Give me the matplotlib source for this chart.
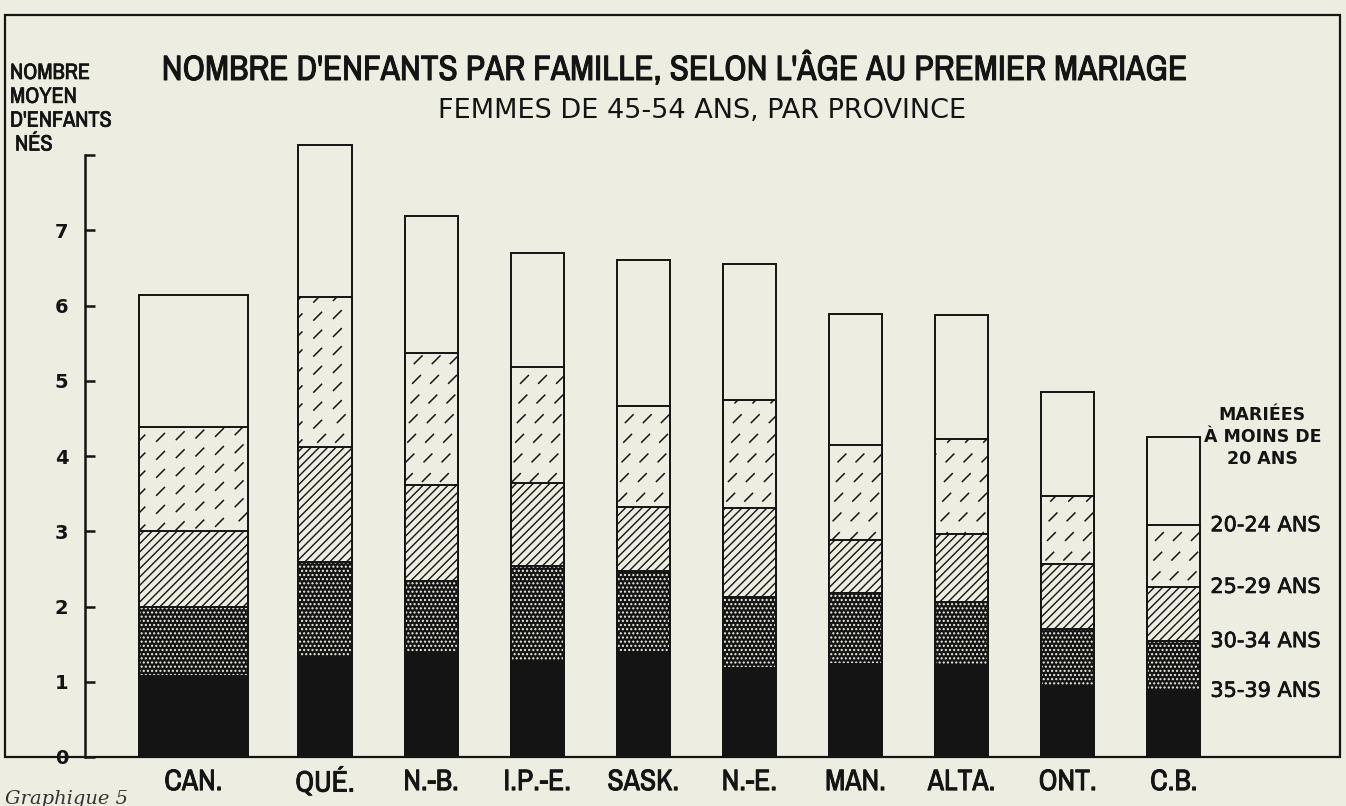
import numpy as np
import matplotlib
matplotlib.use('Agg')
import matplotlib.pyplot as plt
from matplotlib import font_manager
from matplotlib import patheffects as pe
from matplotlib.patches import Rectangle
from matplotlib.collections import LineCollection

# Data: mean number of children born, by age at first marriage
provinces = ['CAN.', 'QUÉ.', 'N.-B.', 'I.P.-E.', 'SASK.', 'N.-E.', 'MAN.', 'ALTA.', 'ONT.', 'C.B.']
under_20 = [6.14, 8.13, 7.19, 6.70, 6.60, 6.55, 5.89, 5.87, 4.85, 4.25]
age_20_24 = [4.38, 6.11, 5.37, 5.18, 4.67, 4.75, 4.15, 4.22, 3.47, 3.08]
age_25_29 = [3.00, 4.12, 3.62, 3.64, 3.32, 3.31, 2.88, 2.96, 2.56, 2.26]
age_30_34 = [1.99, 2.59, 2.34, 2.54, 2.47, 2.13, 2.18, 2.06, 1.70, 1.54]
age_35_39 = [1.08, 1.31, 1.37, 1.28, 1.39, 1.18, 1.23, 1.21, 0.94, 0.88]
group_labels = ['MARIÉES\nÀ MOINS DE\n20 ANS', '20-24 ANS', '25-29 ANS', '30-34 ANS', '35-39 ANS']

paper = '#edeee1'
ink = '#141414'

# look for a narrow / condensed face, otherwise plain DejaVu Sans
narrow, stretch = 'DejaVu Sans', 'normal'
for f in font_manager.fontManager.ttflist:
    if 'Narrow' in f.name or 'Condensed' in f.name:
        narrow, stretch = f.name, 'normal'
        break
else:
    for f in font_manager.fontManager.ttflist:
        if f.name == 'DejaVu Sans' and str(f.stretch) in ('condensed', 'semi-condensed', '500'):
            stretch = 'condensed'
            break

def heavy(w):
    return [pe.withStroke(linewidth=w, foreground=ink)]

plt.rcParams['lines.scale_dashes'] = False
plt.rcParams['hatch.linewidth'] = 1.0

W, H = 1346, 806
fig = plt.figure(figsize=(W / 100, H / 100), dpi=100, facecolor=paper)
ax = fig.add_axes([85 / W, 49 / H, 1255 / W, 602 / H])
ax.set_facecolor('none')
xmin, xmax = -1.262, 10.566
ax.set_xlim(xmin, xmax)
ax.set_ylim(0, 8)
px_x = 1255 / (xmax - xmin)
px_y = 602 / 8

# CAN. bar is twice as wide and set apart
pos = np.r_[-0.24, np.arange(1, len(provinces))]
widths = np.r_[1.02, np.full(len(provinces) - 1, 0.5)]

groups = [under_20, age_20_24, age_25_29, age_30_34, age_35_39]
faces = [paper, paper, paper, ink, ink]
hatches = [None, None, '////', '....', None]
hatch_cols = [ink, ink, ink, paper, ink]

for k, vals in enumerate(groups):
    z = 2 + 2 * k
    bars = ax.bar(pos, vals, width=widths, color=faces[k], edgecolor=hatch_cols[k],
                  hatch=hatches[k], linewidth=0, zorder=z, clip_on=False)
    ax.bar(pos, vals, width=widths, fill=False, edgecolor=ink, linewidth=1.4,
           zorder=z + 0.5, clip_on=False)
    if k == 1:
        # short diagonal dashes for the 20-24 group
        step = 18
        for patch, p, w, v in zip(bars.patches, pos, widths, vals):
            left = (p - w / 2) * px_x
            right = (p + w / 2) * px_x
            top = v * px_y
            starts = np.arange(np.floor((left - top) / step) * step, right, step)
            segs = [[(s / px_x, 0), ((s + top) / px_x, v)] for s in starts]
            lc = LineCollection(segs, colors=ink, linewidths=1.1,
                                linestyles=[(0, (9, 11))], zorder=z + 0.2)
            ax.add_collection(lc)
            lc.set_clip_path(patch)

# group labels beside the C.B. bar
right_edge = pos[-1] + widths[-1] / 2
for k, vals in enumerate(groups):
    if k == 0:
        ax.text(right_edge + 62 / px_x, vals[-1], group_labels[k], ha='center', va='center',
                multialignment='center', fontsize=12.5, fontweight='bold', color=ink,
                linespacing=1.3, zorder=20)
    else:
        ax.text(right_edge + 10 / px_x, vals[-1], group_labels[k], ha='left', va='center',
                fontsize=15, color=ink, zorder=20, path_effects=heavy(0.5))

for side in ['top', 'right', 'bottom']:
    ax.spines[side].set_visible(False)
ax.spines['left'].set_linewidth(1.8)
ax.spines['left'].set_color(ink)

ax.set_yticks(range(9))
ax.set_yticklabels([str(i) for i in range(8)] + [''])
ax.tick_params(axis='y', direction='in', length=7, width=1.8, color=ink, pad=12,
               labelsize=14, labelcolor=ink)
for lab in ax.get_yticklabels():
    lab.set_fontweight('bold')

ax.set_xticks(pos)
ax.set_xticklabels(provinces, family=narrow, fontstretch=stretch, fontsize=22, color=ink)
ax.tick_params(axis='x', length=0, pad=8)
for lab in ax.get_xticklabels():
    lab.set_path_effects(heavy(0.6))

# frame around the chart
fig.add_artist(Rectangle((5 / W, 49 / H), 1335 / W, 742 / H, transform=fig.transFigure,
                         fill=False, edgecolor=ink, linewidth=1.6))

title = fig.text(675 / W, 1 - 80 / H, "NOMBRE D'ENFANTS PAR FAMILLE, SELON L'ÂGE AU PREMIER MARIAGE",
                 ha='center', va='baseline', family=narrow, fontstretch=stretch,
                 fontsize=26, fontweight='bold', color=ink, path_effects=heavy(0.7))
sub = fig.text(702 / W, 1 - 118 / H, 'FEMMES DE 45-54 ANS, PAR PROVINCE',
               ha='center', va='baseline', fontsize=19.5, color=ink)
ylab = fig.text(10 / W, 1 - 63 / H, "NOMBRE\nMOYEN\nD'ENFANTS\n NÉS", ha='left', va='top',
                family=narrow, fontstretch=stretch, fontsize=16, fontweight='bold',
                color=ink, linespacing=1.24, path_effects=heavy(0.5))
fig.text(5 / W, 2 / H, 'Graphique 5', style='italic', family='DejaVu Serif',
         fontsize=14, color='#333333')

# shrink texts that are wider than in the original drawing
renderer = fig.canvas.get_renderer()
for txt, target in [(title, 1025), (sub, 545), (ylab, 108)]:
    w = txt.get_window_extent(renderer).width
    if w > target:
        txt.set_fontsize(txt.get_fontsize() * target / w)
for lab in ax.get_xticklabels():
    w = lab.get_window_extent(renderer).width
    if lab.get_text() == 'CAN.' and w > 58:
        for l2 in ax.get_xticklabels():
            l2.set_fontsize(l2.get_fontsize() * 58 / w)

fig.savefig('out.png', dpi=100, facecolor=paper)
